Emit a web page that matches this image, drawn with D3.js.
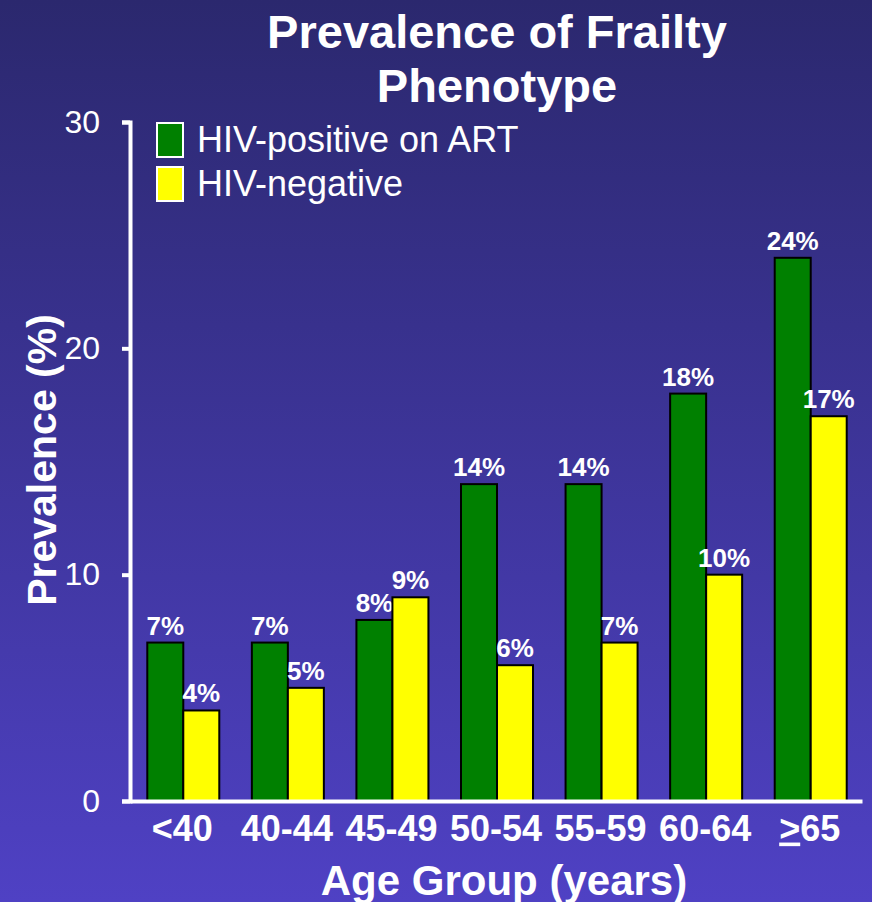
<!DOCTYPE html>
<html><head><meta charset="utf-8">
<script src="https://cdn.jsdelivr.net/npm/d3@7"></script>
<style>body{margin:0}svg{display:block}</style>
</head><body>
<svg id="chart" width="872" height="902"></svg>
<script>
const groups = ['<40', '40-44', '45-49', '50-54', '55-59', '60-64', '>65'];
const hivPos = [7, 7, 8, 14, 14, 18, 24];
const hivNeg = [4, 5, 9, 6, 7, 10, 17];
const yTicks = [0, 10, 20, 30];
const seriesNames = ['HIV-positive on ART', 'HIV-negative'];
const colors = ['#008000', '#ffff00'];

const width = 872, height = 902;
const plotLeft = 130, plotRight = 862, plotTop = 122, plotBottom = 801;
const font = 'Liberation Sans, Arial, sans-serif';

const svg = d3.select('#chart');
const grad = svg.append('defs').append('linearGradient')
  .attr('id', 'bg').attr('x1', 0).attr('y1', 0).attr('x2', 0).attr('y2', 1);
grad.append('stop').attr('offset', '0%').attr('stop-color', '#2b286e');
grad.append('stop').attr('offset', '100%').attr('stop-color', '#4f41c4');
svg.append('rect').attr('width', width).attr('height', height).attr('fill', 'url(#bg)');

const x = d3.scaleBand().domain(groups).range([plotLeft, plotRight]);
const y = d3.scaleLinear().domain([0, 30]).range([plotBottom, plotTop]);
const barW = 36;

const data = groups.map((g, i) => ({ g, vals: [hivPos[i], hivNeg[i]] }));

const gBars = svg.append('g');
data.forEach(d => {
  d.vals.forEach((v, j) => {
    const bx = x(d.g) + x.bandwidth() / 2 - barW + j * barW + 1;
    gBars.append('rect')
      .attr('x', bx).attr('y', y(v))
      .attr('width', barW).attr('height', y(0) - y(v))
      .attr('fill', colors[j]).attr('stroke', '#000').attr('stroke-width', 2);
    gBars.append('text')
      .attr('x', bx + barW / 2).attr('y', y(v) - 8)
      .attr('text-anchor', 'middle').attr('fill', '#fff')
      .attr('font-family', font).attr('font-weight', 'bold').attr('font-size', 26)
      .text(v + '%');
  });
});

// y axis
const yAxis = svg.append('g').attr('transform', `translate(${plotLeft},0)`)
  .call(d3.axisLeft(y).tickValues(yTicks).tickSize(8).tickPadding(14));
yAxis.select('.domain').attr('stroke', '#fff').attr('stroke-width', 4);
yAxis.selectAll('.tick line').attr('stroke', '#fff').attr('stroke-width', 4);
yAxis.selectAll('.tick text').attr('fill', '#fff').attr('font-family', font)
  .attr('font-size', 32).attr('dx', -8);

// x axis
const xAxis = svg.append('g').attr('transform', `translate(0,${plotBottom})`)
  .call(d3.axisBottom(x).tickSize(0).tickPadding(14));
xAxis.select('.domain').attr('stroke', '#fff').attr('stroke-width', 4);
xAxis.selectAll('.tick text').attr('fill', '#fff').attr('font-family', font)
  .attr('font-weight', 'bold').attr('font-size', 36)
  .each(function (d) {
    if (d === '>65') {
      const t = d3.select(this).text('');
      t.append('tspan').attr('text-decoration', 'underline').text('>');
      t.append('tspan').text('65');
    }
  });

// titles
const title = svg.append('text').attr('text-anchor', 'middle').attr('fill', '#fff')
  .attr('font-family', font).attr('font-weight', 'bold').attr('font-size', 47);
title.append('tspan').attr('x', 497).attr('y', 48).text('Prevalence of Frailty');
title.append('tspan').attr('x', 497).attr('y', 102).text('Phenotype');

svg.append('text').attr('x', 504).attr('y', 895).attr('text-anchor', 'middle')
  .attr('fill', '#fff').attr('font-family', font).attr('font-weight', 'bold')
  .attr('font-size', 42).text('Age Group (years)');

svg.append('text').attr('transform', 'translate(56,460) rotate(-90)')
  .attr('text-anchor', 'middle').attr('fill', '#fff').attr('font-family', font)
  .attr('font-weight', 'bold').attr('font-size', 41).text('Prevalence (%)');

// legend
seriesNames.forEach((n, i) => {
  const ly = 123 + i * 44;
  svg.append('rect').attr('x', 157).attr('y', ly).attr('width', 26).attr('height', 34)
    .attr('fill', colors[i]).attr('stroke', '#fff').attr('stroke-width', 2);
  svg.append('text').attr('x', 197).attr('y', ly + 29).attr('fill', '#fff')
    .attr('font-family', font).attr('font-size', 36).text(n);
});
</script>
</body></html>
